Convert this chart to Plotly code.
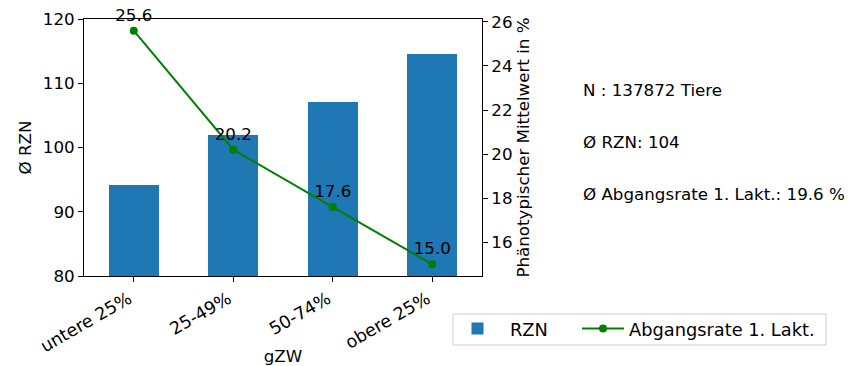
import plotly.graph_objects as go

categories = ["untere 25%", "25-49%", "50-74%", "obere 25%"]
rzn_values = [94.2, 101.9, 107.1, 114.6]
abgang_values = [25.6, 20.2, 17.6, 15.0]
abgang_labels = ["25.6", "20.2", "17.6", "15.0"]
info_lines = ["N : 137872 Tiere", "Ø RZN: 104", "Ø Abgangsrate 1. Lakt.: 19.6 %"]

FONT = "DejaVu Sans"
FS = 16.7
LFS = 17.8
x_idx = list(range(len(categories)))

W, H = 854, 366
PL, PR, PT, PB = 84, 482, 19, 276
PW, PH = PR - PL, PB - PT


def px(x):
    return (x - PL) / PW


def py(y):
    return (PB - y) / PH


fig = go.Figure()
fig.add_trace(go.Bar(
    x=x_idx, y=rzn_values, name="RZN", width=0.5,
    marker=dict(color="#1f77b4", line=dict(width=0)),
    yaxis="y", showlegend=True, legend="legend",
))
fig.add_trace(go.Scatter(
    x=x_idx, y=abgang_values, name="Abgangsrate 1. Lakt.",
    mode="lines+markers+text", text=abgang_labels, textposition="top center",
    textfont=dict(family=FONT, size=FS, color="black"), cliponaxis=False,
    line=dict(color="green", width=2), marker=dict(color="green", size=8),
    yaxis="y2", legend="legend2",
))

ann = []
for i, t in enumerate(info_lines):
    ann.append(dict(
        xref="paper", yref="paper", x=px(581), y=py(90 + 52 * i),
        xanchor="left", yanchor="middle", text=t, showarrow=False,
        font=dict(family=FONT, size=FS, color="black"),
    ))

axis_common = dict(
    showline=True, linecolor="black", linewidth=1,
    ticks="outside", ticklen=5, tickcolor="black", showgrid=False, zeroline=False,
    tickfont=dict(family=FONT, size=FS), automargin=False,
)

legend_common = dict(
    orientation="h", xanchor="left", yanchor="middle", y=py(329),
    borderwidth=0, bgcolor="rgba(0,0,0,0)",
    font=dict(family=FONT, size=LFS),
)

fig.update_layout(
    width=W, height=H,
    margin=dict(l=PL, r=W - PR, t=PT, b=H - PB, autoexpand=False),
    plot_bgcolor="white", paper_bgcolor="white",
    font=dict(family=FONT, size=FS, color="black"),
    bargap=0,
    xaxis=dict(
        range=[-0.5, 3.5], tickmode="array", tickvals=x_idx, ticktext=categories,
        tickangle=-30, mirror=True, ticklabelshift=-5,
        title=dict(text="gZW", font=dict(family=FONT, size=FS), standoff=6),
        **{**axis_common, "tickfont": dict(family=FONT, size=17.5)},
    ),
    yaxis=dict(
        range=[80, 120], dtick=10,
        title=dict(text="Ø RZN", font=dict(family=FONT, size=FS), standoff=6),
        **axis_common,
    ),
    yaxis2=dict(
        range=[14.47, 26.13], dtick=2, overlaying="y", side="right",
        title=dict(text="Phänotypischer Mittelwert in %", font=dict(family=FONT, size=FS), standoff=4),
        **axis_common,
    ),
    legend=dict(x=px(445), itemwidth=55, **legend_common),
    legend2=dict(x=px(577), itemwidth=42, **legend_common),
    shapes=[dict(
        type="rect", xref="paper", yref="paper",
        x0=px(453), x1=px(826), y0=py(345), y1=py(314),
        line=dict(color="#d0d0d0", width=1), fillcolor="rgba(255,255,255,0.8)",
        layer="below",
    )],
    annotations=ann,
)

fig.write_html("out.html", config={"displayModeBar": False},
               post_script="document.body.style.margin='0';")
